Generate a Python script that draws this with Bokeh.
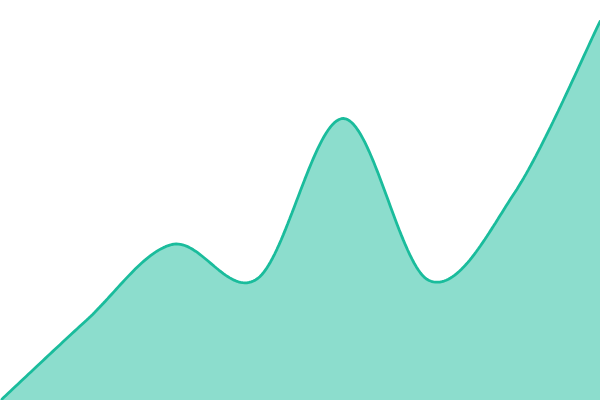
import numpy as np
from bokeh.plotting import figure
from bokeh.models import Range1d, GlobalInlineStyleSheet
from bokeh.embed import file_html
from bokeh.resources import INLINE

# data
x_vals = [0, 1, 2, 3, 4, 5, 6, 7]
y_vals = [0, 80, 156, 122, 282, 120, 208, 380]

def cardinal(xs, ys, n=40):
    xs = np.asarray(xs, float); ys = np.asarray(ys, float)
    m = len(xs)
    tx = np.zeros(m); ty = np.zeros(m)
    for i in range(m):
        a = max(i - 1, 0); b = min(i + 1, m - 1)
        tx[i] = (xs[b] - xs[a]) / 2.0
        ty[i] = (ys[b] - ys[a]) / 2.0
    outx, outy = [xs[0]], [ys[0]]
    t = np.linspace(0, 1, n + 1)[1:]
    for i in range(m - 1):
        h00 = 2 * t**3 - 3 * t**2 + 1
        h10 = t**3 - 2 * t**2 + t
        h01 = -2 * t**3 + 3 * t**2
        h11 = t**3 - t**2
        outx.extend(h00 * xs[i] + h10 * tx[i] + h01 * xs[i + 1] + h11 * tx[i + 1])
        outy.extend(h00 * ys[i] + h10 * ty[i] + h01 * ys[i + 1] + h11 * ty[i + 1])
    return np.array(outx), np.array(outy)

sx, sy = cardinal(x_vals, y_vals)

p = figure(width=600, height=400, output_backend="svg", toolbar_location=None,
           x_range=Range1d(0, 7), y_range=Range1d(0, 400), min_border=0)
p.stylesheets = [GlobalInlineStyleSheet(css="html, body { margin: 0 !important; padding: 0 !important; overflow: hidden; }")]
p.axis.visible = False
p.grid.visible = False
p.outline_line_color = None
p.background_fill_color = "white"
p.border_fill_color = "white"

p.varea(x=sx, y1=np.zeros_like(sy), y2=sy, fill_color="#1abc9c", fill_alpha=0.5)
p.line(x=sx, y=sy, line_color="#1abc9c", line_width=2.8)

open("out.html", "w").write(file_html(p, INLINE))
